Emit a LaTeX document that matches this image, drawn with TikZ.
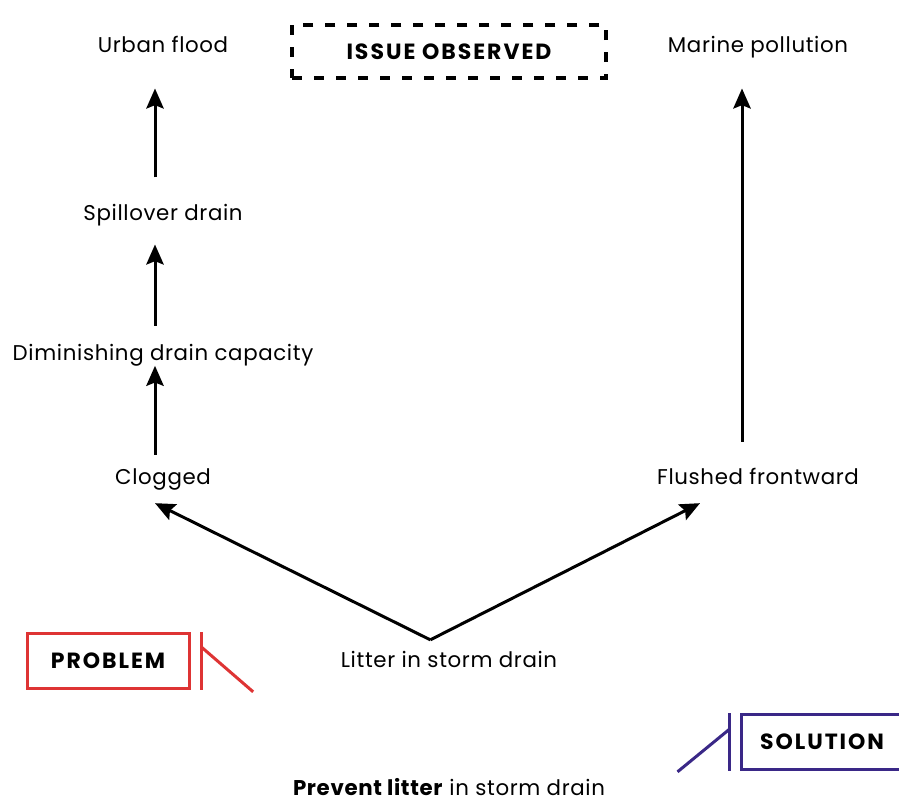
\documentclass[tikz,border=0pt]{standalone}
\usepackage{fontspec}
\setmainfont{Poppins}
\newfontfamily\lblfont{Poppins}[LetterSpace=3]
\newfontfamily\tagfont{Poppins}[LetterSpace=9]
\usetikzlibrary{arrows.meta}
\definecolor{probred}{RGB}{222,52,52}
\definecolor{solpurple}{RGB}{58,40,135}

\tikzset{every picture/.style={line width=0.75pt}}
\tikzset{
  lbl/.style={inner sep=0pt, text height=12pt, text depth=3.5pt, font=\lblfont\fontsize{16}{19}\selectfont},
  arr/.style={line width=2.25pt, -{Stealth[length=15pt,width=13pt,inset=2.5pt]}},
  tagbox/.style={draw, line width=2.25pt, minimum width=121.5pt, minimum height=41pt, inner sep=0pt,
    text height=11.5pt, text depth=0pt, font=\tagfont\bfseries\fontsize{16.5}{19}\selectfont},
}

\begin{document}
\begin{tikzpicture}[x=0.75pt,y=0.75pt,yscale=-1,xscale=1]
\useasboundingbox (0,0) rectangle (899,802);

% Text Node
\node [lbl] (urban) at (163,47) {Urban flood};
% Text Node
\node [draw, dashed, dash pattern=on 7.5pt off 9pt, line width=3pt, minimum width=235.5pt, minimum height=40pt,
  inner sep=0pt, text height=11.5pt, text depth=0pt, font=\tagfont\bfseries\fontsize{16.5}{19}\selectfont] (issue) at (449,51.5) {ISSUE OBSERVED};
% Text Node
\node [lbl] (marine) at (758,47) {Marine pollution};
% Text Node
\node [lbl] (spill) at (163,215) {Spillover drain};
% Text Node
\node [lbl] (dimin) at (163,355) {Diminishing drain capacity};
% Text Node
\node [lbl] (clog) at (163,479) {Clogged};
% Text Node
\node [lbl] (flush) at (758,479) {Flushed frontward};
% Text Node
\node [lbl] (litter) at (449,662) {Litter in storm drain};
% Text Node
\node [lbl] (prevent) at (449,790) {\textbf{Prevent litter} in storm drain};

% Tag boxes
\node [tagbox, probred, text=black] (prob) at (108,661) {PROBLEM};
\node [tagbox, solpurple, text=black] (sol) at (822,742) {SOLUTION};

%Straight Lines
\draw [arr] ([xshift=-6pt,yshift=-10pt]clog.north) -- ([xshift=-6pt]dimin.south);
\draw [arr] ([xshift=-6pt,yshift=-14pt]dimin.north) -- ([xshift=-6pt,yshift=14pt]spill.south);
\draw [arr] ([xshift=-6pt,yshift=-20pt]spill.north) -- ([xshift=-6pt,yshift=23pt]urban.south);
\draw [arr] ([xshift=-12pt,yshift=-20pt]flush.north) -- ([xshift=-12pt,yshift=23pt]marine.south);

\coordinate (apex) at ([xshift=-14pt,yshift=-8.5pt]litter.north);
\draw [arr] (apex) -- ([xshift=-6pt,yshift=10pt]clog.south);
\draw [arr] (apex) -- ([xshift=-43.5pt,yshift=10pt]flush.south);

%Tag ticks
\draw [probred, line width=2.25pt] ([xshift=8pt]prob.north east) -- ([xshift=8pt]prob.south east);
\draw [probred, line width=2.25pt] ([xshift=8pt,yshift=11pt]prob.north east) -- ([xshift=47pt,yshift=1.5pt]prob.south east);
\draw [solpurple, line width=2.25pt] ([xshift=-7.5pt]sol.north west) -- ([xshift=-7.5pt]sol.south west);
\draw [solpurple, line width=2.25pt] ([xshift=-7.5pt,yshift=12pt]sol.north west) -- ([xshift=-46.5pt,yshift=0.75pt]sol.south west);

\end{tikzpicture}
\end{document}
